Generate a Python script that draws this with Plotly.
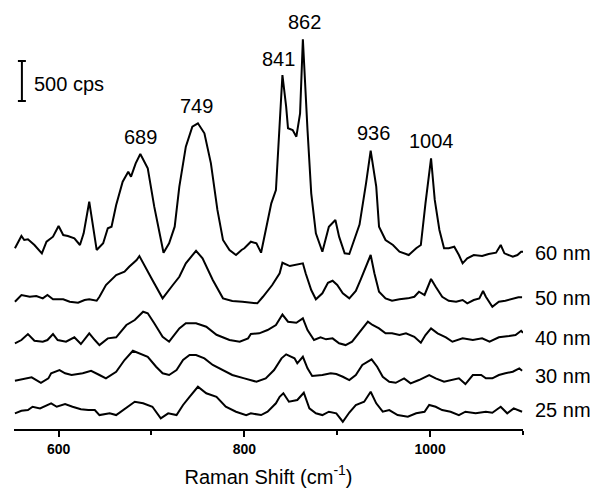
import plotly.graph_objects as go

# ---- data (Raman shift in cm^-1, intensity in cps above each trace's baseline) ----
labels = ["60 nm", "50 nm", "40 nm", "30 nm", "25 nm"]

x60 = [553,560,563,567,574,582,587,594,600,605,610,617,623,627,633,637,641,648,653,657,
       662,669,675,678,683,688,696,703,709,713,719,725,730,737,744,750,757,764,771,777,
       784,791,797,800,807,813,818,823,829,834,838,841,845,847,852,856,860,863,868,872,
       877,884,891,898,902,908,913,918,924,931,936,942,945,952,960,967,977,985,990,995,
       1001,1005,1010,1015,1020,1026,1031,1035,1040,1047,1056,1063,1071,1076,1080,1089,1094,1098,1100]
y60 = [84,238,188,196,125,21,166,229,363,250,238,209,125,271,666,354,63,146,334,354,
       625,916,1041,979,1146,1263,1084,604,271,29,146,354,854,1354,1604,1646,1521,1146,563,188,
       63,0,63,84,166,146,29,313,646,813,1563,2250,1854,1584,1563,1479,1771,2696,1563,771,
       271,41,354,438,229,21,13,188,380,896,1304,854,354,188,125,41,0,84,125,646,
       1209,688,313,84,84,104,0,-104,-41,0,-13,13,29,125,21,-21,0,41,41]

x50 = [553,560,569,576,583,588,594,605,612,621,628,633,641,644,651,662,671,676,684,687,
       701,712,723,730,737,748,755,766,777,787,798,814,820,830,838,841,849,856,863,866,
       872,877,884,890,895,900,906,913,920,925,931,936,940,945,952,959,967,976,983,988,
       994,1001,1006,1013,1020,1028,1035,1040,1047,1053,1057,1060,1067,1074,1081,1088,1095,1099]
y50 = [-21,63,41,50,21,63,9,9,-21,-34,0,9,-9,41,188,313,354,416,500,550,
       250,21,188,291,459,616,521,250,21,-13,-21,-41,41,188,334,466,425,438,459,334,
       125,9,84,216,241,188,84,21,113,250,416,563,334,104,21,-9,9,21,41,104,
       63,263,166,41,-9,-21,0,-41,0,21,113,41,-84,-21,-9,9,34,34]

x40 = [553,560,567,574,583,588,594,599,608,617,624,633,639,644,653,662,673,682,691,696,
       703,712,719,730,737,748,759,770,784,795,804,807,816,825,834,841,847,856,863,868,
       875,882,888,895,902,909,916,922,927,933,938,945,952,959,967,974,983,990,995,1001,
       1008,1017,1024,1035,1046,1056,1064,1074,1085,1092,1098,1100]
y40 = [-41,0,75,-9,-21,0,75,0,-21,34,-50,84,0,-63,21,34,188,250,354,334,
       209,41,-21,146,209,209,166,66,0,-21,21,75,84,125,188,319,229,216,271,125,
       0,34,9,21,-41,-63,-21,63,146,229,188,146,84,84,63,84,41,-34,63,146,
       84,34,-21,21,0,21,-21,34,50,63,116,91]

x30 = [553,562,571,581,589,592,601,607,614,626,635,644,651,662,671,680,687,696,705,712,
       719,727,734,741,748,757,766,777,787,800,813,823,832,840,845,854,857,863,868,873,
       884,893,899,906,913,920,927,937,943,949,956,963,972,979,988,999,1006,1015,1024,1031,
       1038,1046,1055,1060,1067,1074,1081,1089,1096,1099]
y30 = [-34,-16,9,-59,-4,59,100,59,38,59,91,38,-4,79,225,341,309,266,141,59,
       38,100,225,288,288,246,163,100,38,-4,-46,-4,100,246,296,246,184,266,121,25,
       38,59,50,16,-25,38,163,234,141,16,-46,-59,-4,-66,-25,38,-4,-46,-25,-4,
       -75,38,38,-4,-4,38,59,79,121,91]

x25 = [553,560,567,572,580,587,592,598,607,615,624,632,639,644,655,662,671,682,691,701,
       710,718,727,734,741,750,759,770,780,791,802,807,818,825,834,838,842,848,857,864,
       870,877,884,891,899,906,913,920,929,936,942,949,956,965,976,985,994,999,1006,1013,
       1022,1031,1038,1049,1060,1067,1076,1083,1090,1099]
y25 = [-16,16,25,66,46,88,109,66,100,66,34,25,25,-38,-16,-38,34,129,109,66,
       -79,-16,-38,88,191,316,234,191,66,4,-38,-16,-38,4,109,191,234,129,150,241,
       46,-16,-38,4,-16,-121,-6,88,129,254,109,4,25,-38,-59,-16,4,88,66,25,
       4,-38,4,-16,4,-9,66,-16,46,4]

offsets = [2175, 1612, 1112, 637, 212]          # vertical stacking (cps)
peak_labels = ["689", "749", "841", "862", "936", "1004"]
peak_label_pos = [(688, 3650), (748, 4040), (837, 4625), (865, 5090), (939, 3706), (1001, 3606)]
tick_vals = [600, 800, 1000]
scale_cps = 500

FONT = "Liberation Sans, Arial, sans-serif"

series = [(x60, y60), (x50, y50), (x40, y40), (x30, y30), (x25, y25)]

fig = go.Figure()
for (xs, ys), off in zip(series, offsets):
    fig.add_trace(go.Scatter(x=xs, y=[v + off for v in ys], mode="lines",
                             line=dict(color="black", width=2), showlegend=False,
                             hoverinfo="skip"))

# trace labels on the right
for lab, off in zip(labels, offsets):
    fig.add_annotation(x=1.02, xref="paper", y=off + 25, yref="y", text=lab,
                       showarrow=False, xanchor="left", yanchor="middle",
                       font=dict(family=FONT, size=20, color="black"))

# peak labels
for txt, (px, py) in zip(peak_labels, peak_label_pos):
    fig.add_annotation(x=px, y=py, text=txt, showarrow=False, xanchor="center",
                       yanchor="middle", font=dict(family=FONT, size=20, color="black"))

# scale bar
sb_x, sb_y0 = 560.5, 4100
fig.add_shape(type="line", x0=sb_x, x1=sb_x, y0=sb_y0, y1=sb_y0 + scale_cps,
              line=dict(color="black", width=2))
for yy in (sb_y0, sb_y0 + scale_cps):
    fig.add_shape(type="line", x0=sb_x - 4.3, x1=sb_x + 4.3, y0=yy, y1=yy,
                  line=dict(color="black", width=2))
fig.add_annotation(x=571, y=sb_y0 + scale_cps / 2 - 40, text=f"{scale_cps} cps",
                   showarrow=False, xanchor="left", yanchor="middle",
                   font=dict(family=FONT, size=20, color="black"))

fig.update_layout(
    width=593, height=491,
    margin=dict(l=14, r=70, t=5, b=62),
    paper_bgcolor="white", plot_bgcolor="white",
    showlegend=False,
    xaxis=dict(range=[552, 1100], tickvals=tick_vals, ticks="outside", ticklen=6,
               tickwidth=2, tickcolor="black", showline=True, linecolor="black",
               linewidth=2, showgrid=False, zeroline=False,
               tickfont=dict(family=FONT, size=14, color="black", weight="bold"),
               minor=dict(tickvals=[700, 900, 1100], ticks="outside", ticklen=4,
                          tickwidth=2, tickcolor="black", showgrid=False),
               title=dict(text="Raman Shift (cm<sup>-1</sup>)", standoff=14,
                          font=dict(family=FONT, size=20, color="black")),
               automargin=False),
    yaxis=dict(range=[0, 5300], visible=False, showgrid=False, zeroline=False),
)

fig.write_html("out.html", config={"displayModeBar": False},
               post_script="document.body.style.margin='0';document.body.style.overflow='hidden';")
